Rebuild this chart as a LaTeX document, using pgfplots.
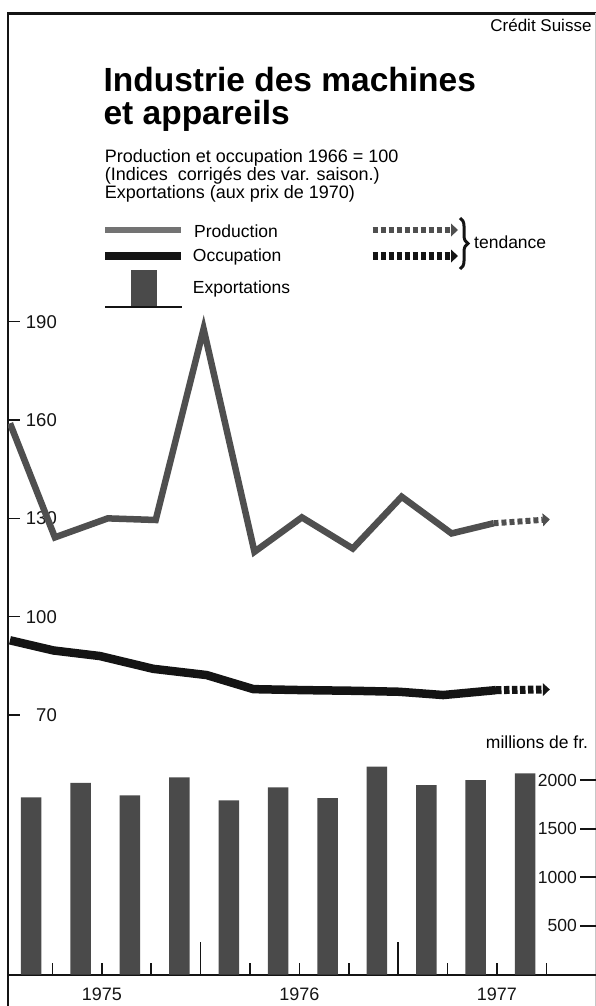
\documentclass[border=0pt]{standalone}
\usepackage{fontspec}
\setmainfont{Liberation Sans}
\usepackage{pgfplots}
\pgfplotsset{compat=1.18}
\usetikzlibrary{arrows.meta,decorations.pathreplacing}

\definecolor{ink}{gray}{0.08}
\definecolor{prod}{gray}{0.31}
\definecolor{barfill}{gray}{0.29}

\newcommand\fs[1]{\fontsize{#1bp}{#1bp}\selectfont}

\tikzset{
  prodline/.style={draw=prod, line width=6.5bp, line join=miter, line cap=butt},
  occline/.style={draw=ink, line width=8.5bp, line join=round, line cap=butt},
  trendtip/.style={-{Triangle[length=7bp,width=13bp,line width=0pt]}},
  lbl/.style={anchor=base west, inner sep=0pt},
}

% the four axes share one horizontal scale: tick k sits at 3bp + 49.39bp*k
\pgfplotsset{
  panel/.style={
    scale only axis,
    width=588bp,
    xmin=0.1, xmax=12.005,
    tick align=inside,
    scaled ticks=false,
    /pgf/number format/assume math mode=true,
    /pgf/number format/1000 sep={},
    tick style={line width=1.5bp, draw=ink},
    every tick label/.append style={inner sep=0pt, text=ink},
  },
  lower/.style={
    panel,
    at={(8bp,-974.5bp)}, anchor=south west,
    height=243.1bp, ymin=0, ymax=2500,
  },
}

\begin{document}
\begin{tikzpicture}[x=1bp,y=-1bp]
\useasboundingbox (0,0) rectangle (596,1006);

% frame
\draw[ink, line width=3bp] (7,13.3) -- (596,13.3);
\draw[ink, line width=2bp] (8,12) -- (8,1006);
\draw[black!22, line width=1bp] (595.5,13) -- (595.5,1006);

% heading
\node[anchor=base east, inner sep=0pt, font=\fs{17}] at (591.7,31.7) {Crédit Suisse};
\node[lbl, font=\fs{33.5}\bfseries] at (103.4,91.7) {Industrie des machines};
\node[lbl, font=\fs{33.5}\bfseries] at (103.4,124) {et appareils};
\node[lbl, font=\fs{18}] at (104.6,162.3) {Production et occupation 1966 = 100};
\node[lbl, font=\fs{18}] at (104.6,180) {(Indices\ \ corrigés des var. saison.)};
\node[lbl, font=\fs{18}] at (104.6,198.3) {Exportations (aux prix de 1970)};

% legend
\draw[black!55, line width=6bp] (105,230) -- (181,230);
\node[lbl, font=\fs{17.5}] at (194,237.7) {Production};
\draw[ink, line width=8bp] (105,256) -- (181,256);
\node[lbl, font=\fs{17.5}] at (192.7,261.7) {Occupation};
\fill[barfill] (130.7,270) rectangle (156.7,306.5);
\draw[ink, line width=1.5bp] (105,307) -- (181.7,307);
\node[lbl, font=\fs{17.5}] at (192.7,293.3) {Exportations};
\draw[prod, line width=6bp, dash pattern=on 5bp off 3bp, trendtip] (372.7,230) -- (458,230);
\draw[ink, line width=8bp, dash pattern=on 5.5bp off 2.5bp, trendtip] (372.7,256) -- (458,256);
\draw[ink, line width=3bp, decorate, decoration={brace, amplitude=8bp, aspect=0.5}] (460,218) -- (460,269);
\node[lbl, font=\fs{17.5}] at (474,248) {tendance};
\node[anchor=base east, inner sep=0pt, font=\fs{17.5}] at (588.3,748.3) {millions de fr.};

% indices
\begin{axis}[
  panel,
  at={(8bp,-747.8bp)}, anchor=south west,
  height=458.9bp, ymin=60, ymax=200,
  axis x line=none, axis y line*=left,
  y axis line style={draw=none},
  ytick={70,100,130,160,190},
  major tick length=11.7bp,
  yticklabel style={anchor=east, xshift=49bp, font=\fs{18.5}},
]
  \addplot[prodline] coordinates {
    (0.14,159) (1.05,124.2) (2.12,130) (3.09,129.5) (4.06,187.8)
    (5.09,119.8) (6.05,130.3) (7.08,120.8) (8.07,136.6) (9.08,125.4)
    (9.93,128.5)
  };
  \addplot[draw=prod, line width=6bp, dash pattern=on 5bp off 3bp, trendtip]
    coordinates {(9.93,128.5) (11.07,129.7)};
  \addplot[occline] coordinates {
    (0.14,92.8) (1.02,89.7) (1.96,88.0) (3.04,84.1) (4.12,82.2)
    (5.07,77.9) (6.09,77.6) (7.1,77.4) (8.02,77.1) (8.91,76.1)
    (9.98,77.6)
  };
  \addplot[draw=ink, line width=8bp, dash pattern=on 5.5bp off 2.5bp, trendtip]
    coordinates {(9.98,77.6) (11.07,77.8)};
\end{axis}

% exports, quarterly
\begin{axis}[
  lower,
  axis y line=none, axis x line*=bottom,
  x axis line style={line width=2bp, draw=ink},
  xtick={1,...,11},
  xticklabels={,1975,,,,1976,,,,1977,},
  major tick length=12bp,
  xticklabel style={anchor=base, yshift=-25.5bp, font=\fs{18}},
]
  \addplot[ybar, bar width=20.5bp, fill=barfill, draw=none] coordinates {
    (0.57,1822) (1.57,1972) (2.57,1842) (3.57,2028) (4.57,1791)
    (5.57,1925) (6.57,1815) (7.57,2137) (8.57,1949) (9.57,2000)
    (10.57,2069)
  };
\end{axis}

% year boundaries
\begin{axis}[
  lower,
  axis y line=none, axis x line*=bottom,
  x axis line style={draw=none},
  xtick={4,8}, xticklabels={},
  major tick length=33bp,
]
\end{axis}

% right scale
\begin{axis}[
  lower,
  axis x line=none, axis y line*=right,
  y axis line style={draw=none},
  ytick={500,1000,1500,2000},
  major tick length=16bp,
  tick style={line width=2bp},
  yticklabel style={anchor=east, xshift=-19bp, font=\fs{17.5}},
]
\end{axis}
\end{tikzpicture}
\end{document}
